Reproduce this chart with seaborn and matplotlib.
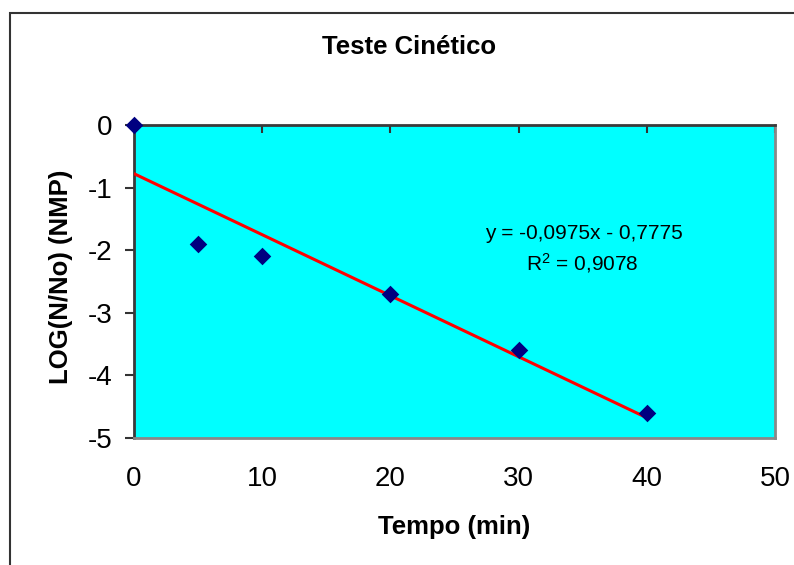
import numpy as np
import pandas as pd
import matplotlib
matplotlib.use("Agg")
import matplotlib.pyplot as plt
import matplotlib.patches as patches
import seaborn as sns

# data
tempo = [0, 5, 10, 20, 30, 40]
log_n = [0.0, -1.9, -2.1, -2.7, -3.6, -4.6]
x_ticks = [0, 10, 20, 30, 40, 50]
y_ticks = [0, -1, -2, -3, -4, -5]

df = pd.DataFrame({"tempo": tempo, "log_n": log_n})

# linear trendline like Excel
slope, intercept = np.polyfit(df.tempo, df.log_n, 1)
r2 = np.corrcoef(df.tempo, df.log_n)[0, 1] ** 2
fit = pd.DataFrame({"tempo": [df.tempo.min(), df.tempo.max()]})
fit["log_n"] = slope * fit.tempo + intercept

sns.set_style("white")
plt.rcParams["font.family"] = ["Liberation Sans", "DejaVu Sans"]
plt.rcParams["text.color"] = "black"
plt.rcParams["axes.labelcolor"] = "black"
plt.rcParams["xtick.labelcolor"] = "black"
plt.rcParams["ytick.labelcolor"] = "black"
plt.rcParams["axes.unicode_minus"] = False
plt.rcParams["mathtext.fontset"] = "custom"
plt.rcParams["mathtext.rm"] = "Liberation Sans"
plt.rcParams["mathtext.default"] = "regular"

fig = plt.figure(figsize=(7.94, 5.65), dpi=100)
ax = fig.add_axes([134 / 794, 1 - 438 / 565, 641 / 794, 313 / 565])
ax.set_facecolor("#00FFFF")

sns.lineplot(data=fit, x="tempo", y="log_n", ax=ax, color="red", lw=2.2, zorder=3)
sns.scatterplot(data=df, x="tempo", y="log_n", ax=ax, marker="D", s=80,
                color="#000080", linewidth=0, zorder=4, clip_on=False)

ax.set_xlim(0, 50)
ax.set_ylim(-5, 0)
ax.set_xticks(x_ticks)
ax.set_yticks(y_ticks)
ax.tick_params(axis="x", top=True, bottom=False, labeltop=False, labelbottom=True,
               direction="in", length=6, width=1.5, color="#333333",
               labelsize=20, pad=20)
ax.tick_params(axis="y", left=True, direction="out", length=6.5, width=1.5,
               color="#333333", labelsize=20, pad=9)

for side in ["top", "left"]:
    ax.spines[side].set_color("#3a3a3a")
    ax.spines[side].set_linewidth(2)
for side in ["right", "bottom"]:
    ax.spines[side].set_color("#888888")
    ax.spines[side].set_linewidth(2)

ax.set_xlabel("Tempo (min)", fontsize=18.5, fontweight="bold")
ax.set_ylabel("LOG(N/No) (NMP)", fontsize=18.5, fontweight="bold")
ax.xaxis.set_label_coords(0.5, -0.245)
ax.yaxis.set_label_coords(-0.095, 0.515)

eq = "y = {:.4f}x - {:.4f}".format(slope, abs(intercept)).replace(".", ",")
r2_txt = "R$^{2}$" + " = {:.4f}".format(r2).replace(".", ",")
ax.text(35.1, -1.74, eq, ha="center", va="center", fontsize=15)
ax.text(35.0, -2.2, r2_txt, ha="center", va="center", fontsize=15)

fig.text(409 / 794, 1 - 47 / 565, "Teste Cinético", ha="center", va="center",
         fontsize=18.5, fontweight="bold")

# chart area border (cut by the image edge on the right and bottom)
fig.patches.append(patches.Rectangle((10 / 794, -0.1), 2, (565 - 13) / 565 + 0.1,
                                     transform=fig.transFigure, fill=False,
                                     edgecolor="#333333", lw=1.5))

fig.savefig("out.png", dpi=100)
